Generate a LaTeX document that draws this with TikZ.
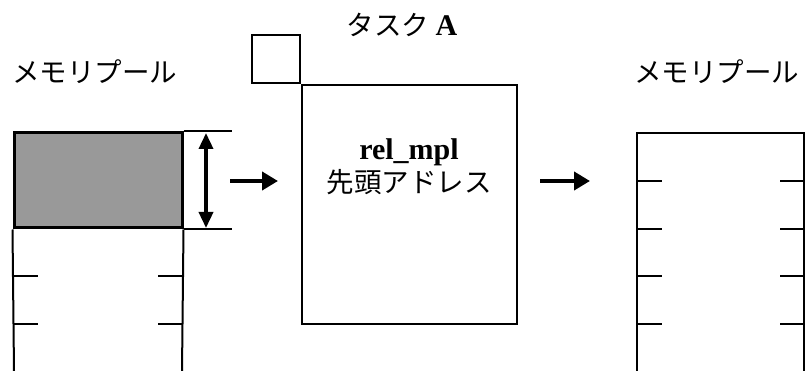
\documentclass[tikz,border=0pt]{standalone}
\usepackage{fontspec}
\setmainfont{Liberation Serif}
\newfontfamily\jpfont{Noto Sans CJK JP}
\newcommand{\latinbold}[1]{{\rmfamily\bfseries\fontsize{30}{33}\selectfont #1}}
\usetikzlibrary{arrows.meta, positioning, calc}

\begin{document}
\begin{tikzpicture}[
        x=1pt, y=-1pt,
        jptext/.style={font=\jpfont\fontsize{27.5}{33}\selectfont, inner sep=0pt, text=black},
        poolline/.style={line width=2pt, draw=black},
        usedblock/.style={rectangle, draw=black, line width=3pt, fill=black!40, minimum width=168pt, minimum height=95pt, inner sep=0pt},
        taskbox/.style={rectangle, draw=black, line width=1.8pt, inner sep=0pt},
        tickmark/.style={line width=2.2pt, draw=black},
        flow/.style={-{Triangle[length=16pt, width=18pt]}, line width=4.5pt},
        sizearrow/.style={{Triangle[length=16pt, width=14pt]}-{Triangle[length=16pt, width=14pt]}, line width=3.5pt}
    ]
        \useasboundingbox (0,0) rectangle (805,371);

        % Titles
        \node[jptext, anchor=west] (lpooltitle) at (12,72) {メモリプール};
        \node[jptext, anchor=west] (rpooltitle) at (634,72) {メモリプール};
        \node[jptext] (tasktitle) at (402,25) {タスク \latinbold{A}};

        % Left memory pool (used block on top)
        \node[usedblock] (blk) at (98,180.5) {};
        \coordinate (lpoolbl) at (14,371);
        \coordinate (lpoolbr) at (182,371);
        \draw[poolline] (blk.south west) -- (lpoolbl);
        \draw[poolline] (blk.south east) -- (lpoolbr);
        \draw[tickmark] (14,276) -- ++(24,0);
        \draw[tickmark] (14,324) -- ++(24,0);
        \draw[tickmark] (182,276) -- ++(-24,0);
        \draw[tickmark] (182,324) -- ++(-24,0);

        % Block size
        \draw[poolline] (blk.north east) -- ++(48,0) coordinate (exttop);
        \draw[poolline] (blk.south east) -- ++(48,0) coordinate (extbot);
        \coordinate (spantop) at (206,133);
        \coordinate (spanbot) at (206,228);
        \draw[sizearrow] (spantop) -- (spanbot);

        % Task A
        \node[taskbox, minimum width=215pt, minimum height=239pt] (task) at (409.5,204.5) {};
        \node[taskbox, minimum size=48pt, anchor=south east] (tcb) at (task.north west) {};
        \node[jptext, align=center] (tasklbl) at (409,167) {\latinbold{rel\_mpl}\\先頭アドレス};

        % Right memory pool (all free)
        \coordinate (rpooltl) at (637,133);
        \coordinate (rpooltr) at (804,133);
        \draw[poolline] (637,371) -- (rpooltl) -- (rpooltr) -- (804,371);
        \draw[tickmark] (637,181) -- ++(25,0);
        \draw[tickmark] (637,229) -- ++(25,0);
        \draw[tickmark] (637,276) -- ++(25,0);
        \draw[tickmark] (637,324) -- ++(25,0);
        \draw[tickmark] (804,181) -- ++(-24,0);
        \draw[tickmark] (804,229) -- ++(-24,0);
        \draw[tickmark] (804,276) -- ++(-24,0);
        \draw[tickmark] (804,324) -- ++(-24,0);

        % Flow arrows
        \coordinate (get1) at (230,181);
        \coordinate (get2) at (278,181);
        \coordinate (rel1) at (540,181);
        \coordinate (rel2) at (590,181);
        \draw[flow] (get1) -- (get2);
        \draw[flow] (rel1) -- (rel2);

    \end{tikzpicture}
\end{document}
